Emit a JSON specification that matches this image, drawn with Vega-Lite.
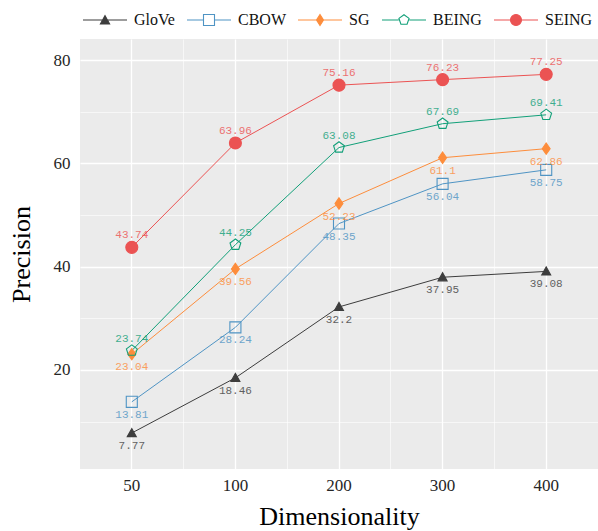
{
  "$schema": "https://vega.github.io/schema/vega-lite/v6.json",
  "width": 518,
  "height": 430,
  "autosize": {"type": "none"},
  "padding": {"left": 80, "top": 39, "right": 0, "bottom": 62},
  "background": "white",
  "config": {"view": {"fill": "#ebebeb", "stroke": null}, "font": "Liberation Serif"},
  "data": {"values": [
    {"dim": 50, "series": "GloVe", "value": 7.77},
    {"dim": 100, "series": "GloVe", "value": 18.46},
    {"dim": 200, "series": "GloVe", "value": 32.2},
    {"dim": 300, "series": "GloVe", "value": 37.95},
    {"dim": 400, "series": "GloVe", "value": 39.08},
    {"dim": 50, "series": "CBOW", "value": 13.81},
    {"dim": 100, "series": "CBOW", "value": 28.24},
    {"dim": 200, "series": "CBOW", "value": 48.35},
    {"dim": 300, "series": "CBOW", "value": 56.04},
    {"dim": 400, "series": "CBOW", "value": 58.75},
    {"dim": 50, "series": "SG", "value": 23.04},
    {"dim": 100, "series": "SG", "value": 39.56},
    {"dim": 200, "series": "SG", "value": 52.23},
    {"dim": 300, "series": "SG", "value": 61.1},
    {"dim": 400, "series": "SG", "value": 62.86},
    {"dim": 50, "series": "BEING", "value": 23.74},
    {"dim": 100, "series": "BEING", "value": 44.25},
    {"dim": 200, "series": "BEING", "value": 63.08},
    {"dim": 300, "series": "BEING", "value": 67.69},
    {"dim": 400, "series": "BEING", "value": 69.41},
    {"dim": 50, "series": "SEING", "value": 43.74},
    {"dim": 100, "series": "SEING", "value": 63.96},
    {"dim": 200, "series": "SEING", "value": 75.16},
    {"dim": 300, "series": "SEING", "value": 76.23},
    {"dim": 400, "series": "SEING", "value": 77.25}
  ]},
  "encoding": {
    "y": {
      "field": "value", "type": "quantitative",
      "scale": {"domain": [0.8, 84.1], "nice": false, "zero": false},
      "axis": {
        "values": [10, 20, 30, 40, 50, 60, 70, 80],
        "labelExpr": "datum.value % 20 === 0 ? datum.label : ''",
        "grid": true, "gridColor": "white",
        "gridWidth": {"condition": {"test": "datum.value % 20 === 0", "value": 1.3}, "value": 0.6},
        "domain": false, "ticks": false, "tickSize": 0,
        "labelPadding": 10, "labelFontSize": 17, "labelColor": "#262626", "labelFont": "Liberation Serif",
        "title": "Precision", "titleFontSize": 26, "titleFontWeight": "normal", "titleColor": "black",
        "titleFont": "Liberation Serif", "titlePadding": 19
      }
    }
  },
  "resolve": {"axis": {"x": "independent"}},
  "layer": [
    {
      "mark": {"type": "line", "strokeWidth": 1},
      "encoding": {
        "x": {
          "field": "dim", "type": "ordinal", "sort": [50, 100, 200, 300, 400],
          "scale": {"type": "band", "paddingInner": 0, "paddingOuter": -0.1},
          "axis": {
            "orient": "bottom", "bandPosition": 0.5, "labelAngle": 0,
            "grid": true, "gridColor": "white", "gridWidth": 1.3,
            "domain": false, "ticks": false, "tickSize": 0,
            "labelPadding": 8, "labelFontSize": 17, "labelColor": "#262626", "labelFont": "Liberation Serif",
            "title": "Dimensionality", "titleFontSize": 26, "titleFontWeight": "normal", "titleColor": "black",
            "titleFont": "Liberation Serif", "titlePadding": 10
          }
        },
        "color": {
          "field": "series", "type": "nominal",
          "scale": {"domain": ["GloVe", "CBOW", "SG", "BEING", "SEING"],
                    "range": ["#3d3d3d", "#4f94c4", "#fd8d3c", "#12a079", "#eb5353"]},
          "legend": {
            "orient": "none", "legendX": 2, "legendY": -42, "direction": "horizontal",
            "title": null, "symbolSize": 1936, "symbolStrokeWidth": 1.1,
            "labelFontSize": 16, "labelFontWeight": "normal", "labelOffset": 6, "columnPadding": 9,
            "labelColor": "#111111", "labelFont": "Liberation Serif",
            "encode": {"symbols": {"update": {
              "shape": {"signal": "datum.value === 'GloVe' ? 'M-1,0H1M-0.21,0.18L0,-0.2L0.21,0.18Z' : datum.value === 'CBOW' ? 'M-1,0H-0.25M0.25,0H1M-0.25,-0.25H0.25V0.25H-0.25Z' : datum.value === 'SG' ? 'M-1,0H1M0,-0.25L0.16,0L0,0.25L-0.16,0Z' : datum.value === 'BEING' ? 'M-1,0H-0.24M0.24,0H1M0,-0.24L0.23,-0.075L0.14,0.195L-0.14,0.195L-0.23,-0.075Z' : 'M-1,0H1M0.25,0A0.25,0.25 0 1,1 -0.25,0A0.25,0.25 0 1,1 0.25,0Z'"},
              "fill": {"signal": "datum.value === 'CBOW' || datum.value === 'BEING' ? 'transparent' : scale('color', datum.value)"},
              "stroke": {"signal": "scale('color', datum.value)"},
              "strokeWidth": {"value": 1.1},
              "opacity": {"value": 1}
            }}}
          }
        }
      }
    },
    {
      "mark": {"type": "point", "strokeWidth": 1.1, "opacity": 1, "size": 144},
      "encoding": {
        "x": {
          "field": "dim", "type": "ordinal", "sort": [50, 100, 200, 300, 400],
          "axis": {
            "orient": "top", "bandPosition": 0, "values": [100, 200, 300, 400],
            "labels": false, "ticks": false, "domain": false, "title": null,
            "grid": true, "gridColor": "white", "gridWidth": 0.6
          }
        },
        "shape": {
          "condition": [
            {"test": "datum.series === 'GloVe'", "value": "M-0.75,0.6L0,-0.75L0.75,0.6Z"},
            {"test": "datum.series === 'CBOW'", "value": "M-0.92,-0.92H0.92V0.92H-0.92Z"},
            {"test": "datum.series === 'SG'", "value": "M0,-0.95L0.66,0L0,0.95L-0.66,0Z"},
            {"test": "datum.series === 'BEING'", "value": "M0,-0.95L0.9,-0.29L0.56,0.77L-0.56,0.77L-0.9,-0.29Z"}
          ],
          "value": "M1,0A1,1 0 1,1 -1,0A1,1 0 1,1 1,0Z"
        },
        "fill": {
          "condition": [
            {"test": "datum.series === 'GloVe'", "value": "#3d3d3d"},
            {"test": "datum.series === 'SG'", "value": "#fd8d3c"},
            {"test": "datum.series === 'SEING'", "value": "#eb5353"}
          ],
          "value": "transparent"
        },
        "stroke": {
          "condition": [
            {"test": "datum.series === 'GloVe'", "value": "#3d3d3d"},
            {"test": "datum.series === 'CBOW'", "value": "#4f94c4"},
            {"test": "datum.series === 'SG'", "value": "#fd8d3c"},
            {"test": "datum.series === 'BEING'", "value": "#12a079"}
          ],
          "value": "#eb5353"
        }
      }
    },
    {
      "transform": [{"filter": "datum.series === 'SEING' || datum.series === 'BEING'"}],
      "mark": {"type": "text", "dy": -9, "baseline": "alphabetic", "font": "Liberation Mono", "fontSize": 11, "opacity": 0.8},
      "encoding": {
        "x": {"field": "dim", "type": "ordinal", "sort": [50, 100, 200, 300, 400], "axis": null},
        "text": {"field": "value", "type": "nominal"},
        "color": {
          "condition": [{"test": "datum.series === 'BEING'", "value": "#12a079"}],
          "value": "#eb5353"
        }
      }
    },
    {
      "transform": [{"filter": "datum.series !== 'SEING' && datum.series !== 'BEING'"}],
      "mark": {"type": "text", "dy": 16, "baseline": "alphabetic", "font": "Liberation Mono", "fontSize": 11, "opacity": 0.8},
      "encoding": {
        "x": {"field": "dim", "type": "ordinal", "sort": [50, 100, 200, 300, 400], "axis": null},
        "text": {"field": "value", "type": "nominal"},
        "color": {
          "condition": [
            {"test": "datum.series === 'GloVe'", "value": "#3d3d3d"},
            {"test": "datum.series === 'CBOW'", "value": "#4f94c4"}
          ],
          "value": "#fd8d3c"
        }
      }
    }
  ]
}
